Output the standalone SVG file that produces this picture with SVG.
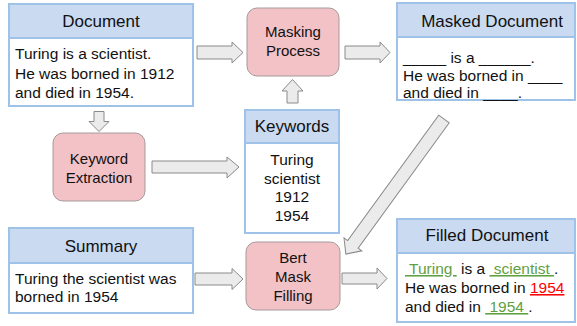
<svg xmlns="http://www.w3.org/2000/svg" width="577" height="326" viewBox="0 0 577 326">
<style>
text{font-family:"Liberation Sans",Arial,sans-serif;fill:#111}
.h{font-size:17px;text-anchor:middle}
.b{font-size:15.5px}
.c{font-size:15.5px;text-anchor:middle}
.p{font-size:15px;text-anchor:middle}
.hd{fill:#c9daf1;stroke:#9fc3e8;stroke-width:2}
.bd{fill:#ffffff;stroke:#9fc3e8;stroke-width:2}
.pk{fill:#f2c2c6;stroke:#a69a9b;stroke-width:1}
.ar{fill:#ebebeb;stroke:#8a8a8a;stroke-width:1}
.g{fill:#5fa042;text-decoration:underline}
.r{fill:#ff0000;text-decoration:underline}
</style>
<g id="connectors">
<polygon class="ar" points="197,46 232,46 232,42 243,52.5 232,63 232,59 197,59"/>
<polygon class="ar" points="345,46 380,46 380,42 390,52.5 380,63 380,59 345,59"/>
<polygon class="ar" points="287,103 298,103 298,91 303,91 292.5,79.5 282,91 287,91"/>
<polygon class="ar" points="94,111.5 104,111.5 104,121.5 109,121.5 99,131.5 89,121.5 94,121.5"/>
<polygon class="ar" points="152,161 227,161 227,157 239,167 227,178 227,173 152,173"/>
<polygon class="ar" points="195,273 232,273 232,268.5 243,279 232,289.5 232,285 195,285"/>
<polygon class="ar" points="342,273 377,273 377,268 387,278.5 377,289 377,284 342,284"/>
<polygon class="ar" transform="translate(444,119) rotate(126)" points="0,-6.5 155,-6.5 155,-11 167,0 155,11 155,6.5 0,6.5"/>
</g>
<g id="document">
<rect class="hd" x="9" y="4" width="184" height="34"/>
<rect class="bd" x="9" y="38" width="184" height="68"/>
<text class="h" x="101" y="27">Document</text>
<text class="b" x="15" y="59">Turing is a scientist.</text>
<text class="b" x="15" y="78.5">He was borned in 1912</text>
<text class="b" x="15" y="98">and died in 1954.</text>
</g>
<g id="masking-process">
<rect class="pk" x="247" y="8" width="92" height="68" rx="10"/>
<text class="p" x="293" y="37">Masking</text>
<text class="p" x="293" y="56">Process</text>
</g>
<g id="masked-document">
<rect class="hd" x="397" y="3" width="178" height="34"/>
<rect class="bd" x="397" y="37" width="178" height="63"/>
<text class="h" x="492" y="27">Masked Document</text>
<text class="b" x="403" y="63">_____ is a ______.</text>
<text class="b" x="403" y="81">He was borned in ____</text>
<text class="b" x="403" y="97.5">and died in ____.</text>
</g>
<g id="keyword-extraction">
<rect class="pk" x="53" y="133" width="92" height="68" rx="10"/>
<text class="p" x="99" y="163.5">Keyword</text>
<text class="p" x="99" y="182.5">Extraction</text>
</g>
<g id="keywords">
<rect class="hd" x="245" y="110" width="94" height="33"/>
<rect class="bd" x="245" y="143" width="94" height="90"/>
<text class="h" x="292" y="132">Keywords</text>
<text class="c" x="292" y="165">Turing</text>
<text class="c" x="292" y="183.5">scientist</text>
<text class="c" x="292" y="202">1912</text>
<text class="c" x="292" y="220.5">1954</text>
</g>
<g id="summary">
<rect class="hd" x="9" y="228" width="184" height="35"/>
<rect class="bd" x="9" y="263" width="184" height="50"/>
<text class="h" x="101" y="252">Summary</text>
<text class="b" x="15" y="283.5">Turing the scientist was</text>
<text class="b" x="15" y="302">borned in 1954</text>
</g>
<g id="bert-mask-filling">
<rect class="pk" x="246" y="242" width="94" height="68" rx="10"/>
<text class="p" x="293" y="263">Bert</text>
<text class="p" x="293" y="282">Mask</text>
<text class="p" x="293" y="300.5">Filling</text>
</g>
<g id="filled-document">
<rect class="hd" x="397" y="219" width="178" height="34"/>
<rect class="bd" x="397" y="253" width="178" height="69"/>
<text class="h" x="487" y="241">Filled Document</text>
<text class="b" x="405" y="274" xml:space="preserve"><tspan class="g"> Turing </tspan> is a <tspan class="g"> scientist </tspan>.</text>
<text class="b" x="405" y="293" xml:space="preserve">He was borned in <tspan class="r">1954</tspan></text>
<text class="b" x="405" y="312" xml:space="preserve">and died in <tspan class="g"> 1954 </tspan>.</text>
</g>
</svg>
